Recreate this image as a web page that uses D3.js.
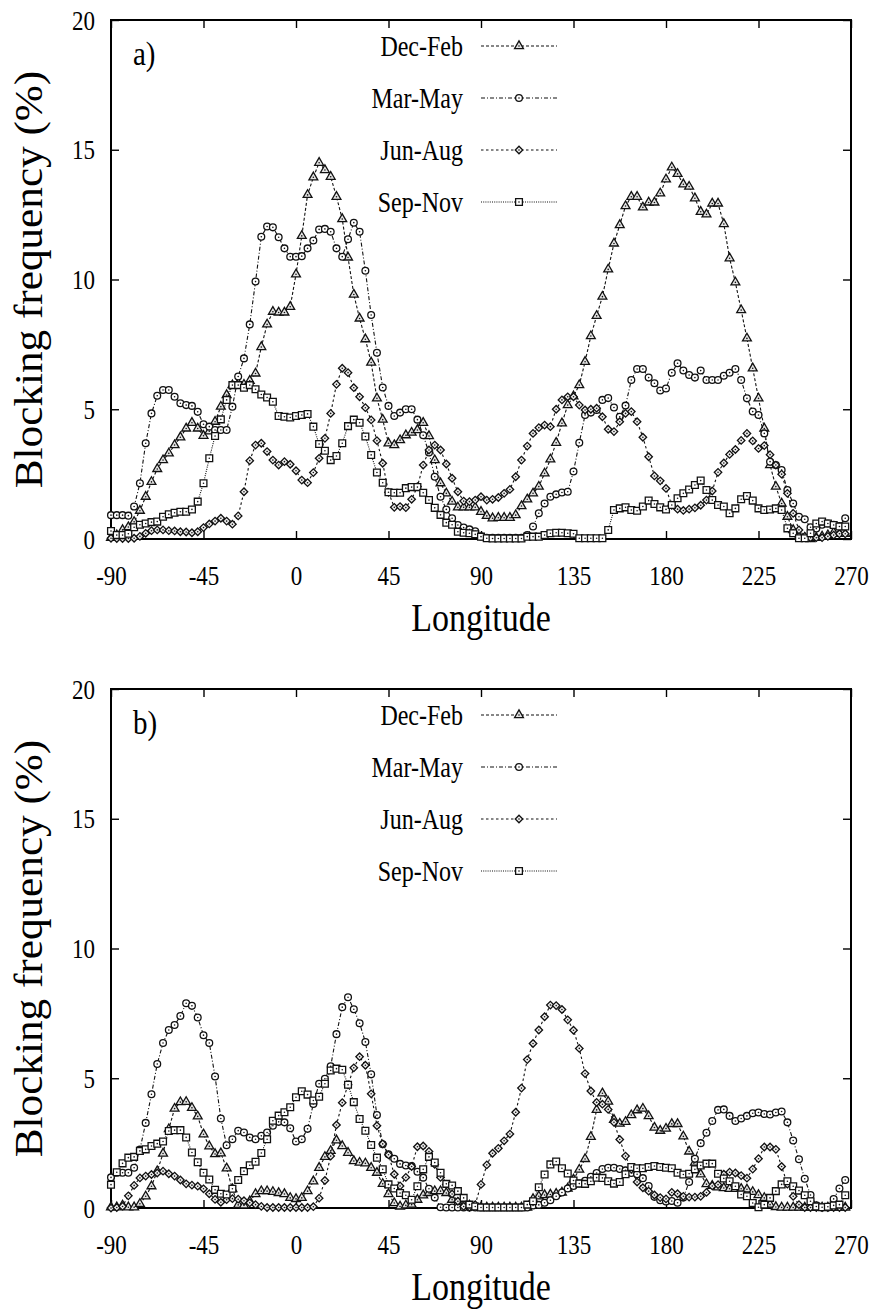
<!DOCTYPE html>
<html>
<head>
<meta charset="utf-8">
<script src="https://cdn.jsdelivr.net/npm/d3@7"></script>
<style>
    body { margin: 0; background: #fff; }
    svg text { font-family: "Liberation Serif", "Times New Roman", serif; fill: #000; }
</style>
</head>
<body>
<div id="chart-container"></div>
<script>
// T42 grid: 128 longitudes, 2.8125 deg apart, starting at -90
const lonStep = 2.8125;
const longitudes = d3.range(128).map((i) => -90 + i * lonStep);

const seasons = ["Dec-Feb", "Mar-May", "Jun-Aug", "Sep-Nov"];
const panelLabels = ["a)", "b)"];
const xTicks = [-90, -45, 0, 45, 90, 135, 180, 225, 270];
const yTicks = [0, 5, 10, 15, 20];

// panel a)
const decFebA = [
    0.05, 0.15, 0.35, 0.46, 0.66, 1.09, 1.63, 2.2, 2.7, 3.04, 3.3, 3.62, 3.92, 4.26, 4.48, 4.26,
    3.98, 4.15, 4.52, 5.1, 5.55, 5.93, 6.0, 5.95, 6.1, 6.38, 7.4, 8.27, 8.76, 8.73, 8.73, 8.95,
    10.2, 11.68, 13.26, 13.94, 14.5, 14.22, 13.96, 13.19, 12.33, 10.85, 9.42, 8.5, 7.7, 6.8, 5.42, 4.6,
    3.69, 3.62, 3.81, 4.0, 4.1, 4.2, 4.48, 3.97, 3.04, 2.15, 1.76, 1.44, 1.22, 1.22, 1.22, 1.22,
    1.05, 0.89, 0.8, 0.82, 0.82, 0.82, 0.92, 1.27, 1.53, 1.76, 2.02, 2.53, 3.07, 3.71, 4.46, 5.16,
    5.5, 5.93, 6.83, 7.82, 8.6, 9.34, 10.39, 11.39, 12.1, 12.83, 13.19, 13.19, 12.78, 12.97, 12.97, 13.32,
    13.86, 14.32, 14.07, 13.67, 13.58, 13.13, 12.61, 12.51, 12.93, 12.93, 12.14, 10.82, 9.89, 8.82, 7.73, 6.58,
    5.42, 4.26, 2.85, 2.02, 1.37, 0.86, 0.35, 0.1, 0.05, 0.0, 0.05, 0.1, 0.15, 0.25, 0.2, 0.2
];
const marMayA = [
    0.92, 0.92, 0.92, 0.9, 1.25, 2.15, 3.69, 4.84, 5.52, 5.74, 5.74, 5.48, 5.23, 5.16, 5.13, 4.9,
    4.42, 4.33, 4.2, 4.2, 4.2, 5.1, 6.26, 6.96, 8.27, 9.92, 11.65, 12.04, 12.01, 11.63, 11.2, 10.88,
    10.88, 10.9, 11.2, 11.5, 11.93, 11.95, 11.84, 11.2, 10.88, 11.55, 12.19, 11.84, 10.34, 8.63, 7.18, 5.84,
    5.13, 4.74, 4.87, 5.0, 5.0, 4.6, 4.0, 3.33, 2.4, 1.63, 1.14, 0.8, 0.54, 0.44, 0.37, 0.3,
    0.1, 0.05, 0.05, 0.05, 0.05, 0.05, 0.05, 0.05, 0.15, 0.48, 0.99, 1.37, 1.63, 1.72, 1.79, 1.82,
    2.6, 3.71, 4.78, 4.87, 4.97, 5.36, 5.43, 5.07, 4.71, 5.14, 6.13, 6.55, 6.55, 6.22, 6.0, 5.72,
    5.8, 6.41, 6.77, 6.49, 6.32, 6.22, 6.49, 6.13, 6.13, 6.13, 6.29, 6.41, 6.55, 6.13, 5.42, 4.91,
    4.78, 4.07, 2.98, 2.85, 2.66, 1.89, 1.37, 0.86, 0.76, 0.45, 0.4, 0.55, 0.6, 0.55, 0.5, 0.8
];
const junAugA = [
    0.03, 0.02, 0.02, 0.02, 0.03, 0.1, 0.22, 0.32, 0.35, 0.35, 0.32, 0.31, 0.28, 0.27, 0.24, 0.28,
    0.44, 0.58, 0.69, 0.8, 0.69, 0.57, 0.89, 1.82, 3.02, 3.62, 3.69, 3.37, 3.04, 2.85, 2.98, 2.88,
    2.63, 2.27, 2.17, 2.56, 3.11, 3.88, 4.84, 5.96, 6.58, 6.41, 5.83, 5.48, 5.06, 4.59, 3.79, 2.92,
    1.8, 1.22, 1.25, 1.21, 1.53, 2.02, 2.85, 3.43, 3.62, 3.43, 2.89, 2.34, 1.82, 1.46, 1.44, 1.5,
    1.63, 1.5, 1.53, 1.6, 1.76, 1.91, 2.4, 3.04, 3.58, 4.07, 4.29, 4.39, 4.33, 5.0, 5.36, 5.48,
    5.48, 5.16, 4.97, 5.0, 5.04, 4.71, 4.23, 4.14, 4.52, 4.84, 4.91, 4.52, 3.92, 3.17, 2.43, 2.24,
    1.95, 1.3, 1.15, 1.1, 1.15, 1.2, 1.3, 1.5, 1.85, 2.57, 2.93, 3.26, 3.45, 3.8, 4.07, 3.78,
    3.49, 3.6, 3.25, 2.85, 2.5, 1.76, 0.99, 0.35, 0.1, 0.05, 0.05, 0.05, 0.1, 0.15, 0.2, 0.2
];
const sepNovA = [
    0.31, 0.15, 0.15, 0.2, 0.45, 0.55, 0.6, 0.65, 0.67, 0.86, 0.95, 1.01, 1.05, 1.05, 1.14, 1.44,
    2.15, 3.11, 3.97, 4.61, 5.36, 5.93, 5.93, 5.83, 5.93, 5.77, 5.57, 5.45, 5.29, 4.74, 4.71, 4.68,
    4.74, 4.78, 4.82, 4.33, 3.66, 3.4, 3.04, 3.2, 3.69, 4.35, 4.6, 4.48, 3.95, 3.24, 2.56, 2.17,
    1.8, 1.78, 1.78, 1.96, 2.0, 2.0, 1.78, 1.5, 1.2, 0.93, 0.63, 0.55, 0.28, 0.24, 0.22, 0.18,
    0.09, 0.03, 0.02, 0.02, 0.02, 0.02, 0.02, 0.02, 0.09, 0.09, 0.09, 0.15, 0.22, 0.24, 0.24, 0.22,
    0.2, 0.03, 0.03, 0.03, 0.03, 0.03, 0.35, 1.12, 1.18, 1.22, 1.12, 1.09, 1.25, 1.48, 1.35, 1.22,
    1.14, 1.31, 1.57, 1.76, 1.91, 2.08, 2.25, 1.89, 1.5, 1.31, 1.25, 0.99, 1.18, 1.53, 1.66, 1.48,
    1.18, 1.12, 1.14, 1.18, 1.12, 0.41, 0.22, 0.03, 0.03, 0.22, 0.6, 0.67, 0.6, 0.54, 0.48, 0.48
];

// panel b)
const decFebB = [
    0.03, 0.03, 0.1, 0.03, 0.03, 0.16, 0.45, 0.84, 1.42, 2.1, 3.04, 3.83, 4.08, 4.09, 3.86, 3.53,
    2.84, 2.38, 2.08, 2.11, 1.53, 0.73, 0.12, 0.1, 0.26, 0.54, 0.65, 0.65, 0.62, 0.58, 0.54, 0.39,
    0.35, 0.39, 0.65, 1.03, 1.55, 1.97, 2.2, 2.61, 2.39, 2.13, 1.81, 1.75, 1.72, 1.55, 1.36, 0.93,
    0.54, 0.19, 0.06, 0.1, 0.13, 0.32, 0.49, 0.58, 0.65, 0.65, 0.58, 0.32, 0.19, 0.12, 0.1, 0.05,
    0.02, 0.02, 0.02, 0.02, 0.02, 0.02, 0.02, 0.02, 0.02, 0.35, 0.45, 0.5, 0.52, 0.55, 0.6, 0.75,
    1.1, 1.48, 1.89, 2.74, 3.78, 4.42, 4.1, 3.4, 3.25, 3.32, 3.58, 3.77, 3.83, 3.54, 3.1, 2.98,
    3.06, 3.24, 3.24, 2.76, 2.18, 1.75, 1.3, 0.92, 0.86, 0.8, 0.77, 0.74, 0.74, 0.74, 0.72, 0.62,
    0.5, 0.39, 0.13, 0.04, 0.02, 0.02, 0.02, 0.02, 0.02, 0.02, 0.02, 0.02, 0.02, 0.02, 0.02, 0.02
];
const marMayB = [
    1.18, 1.36, 1.36, 1.36, 1.55, 2.25, 3.28, 4.38, 5.55, 6.36, 6.86, 7.05, 7.4, 7.89, 7.79, 7.34,
    6.66, 6.36, 5.07, 3.45, 2.42, 2.65, 2.98, 2.91, 2.72, 2.65, 2.78, 2.91, 3.17, 3.32, 3.3, 3.07,
    2.56, 2.65, 3.05, 4.01, 4.79, 4.98, 5.46, 6.7, 7.74, 8.12, 7.66, 7.12, 6.4, 5.15, 3.58, 2.46,
    2.07, 1.9, 1.7, 1.64, 1.62, 1.4, 1.17, 0.74, 0.4, 0.03, 0.02, 0.02, 0.02, 0.02, 0.02, 0.02,
    0.02, 0.02, 0.02, 0.02, 0.02, 0.02, 0.02, 0.02, 0.02, 0.1, 0.12, 0.2, 0.3, 0.45, 0.6, 0.75,
    0.85, 0.95, 1.05, 1.2, 1.35, 1.5, 1.55, 1.55, 1.5, 1.45, 1.35, 1.3, 1.15, 0.85, 0.43, 0.3,
    0.25, 0.27, 0.2, 0.4, 1.0, 1.9, 2.5, 2.9, 3.35, 3.78, 3.8, 3.55, 3.35, 3.45, 3.55, 3.65,
    3.68, 3.62, 3.6, 3.68, 3.72, 3.3, 2.6, 1.88, 1.13, 0.5, 0.1, 0.02, 0.02, 0.35, 0.75, 1.08
];
const junAugB = [
    0.0, 0.02, 0.06, 0.47, 0.87, 1.16, 1.23, 1.29, 1.35, 1.42, 1.32, 1.23, 1.08, 0.93, 0.88, 0.84,
    0.74, 0.55, 0.33, 0.22, 0.32, 0.36, 0.34, 0.28, 0.2, 0.13, 0.06, 0.02, 0.02, 0.02, 0.02, 0.02,
    0.02, 0.02, 0.02, 0.05, 0.38, 1.06, 2.0, 3.2, 4.06, 4.75, 5.4, 5.83, 5.5, 4.4, 3.17, 2.47,
    2.05, 1.3, 0.85, 1.18, 1.6, 2.36, 2.39, 2.18, 1.68, 1.18, 0.91, 0.54, 0.26, 0.06, 0.03, 0.13,
    0.91, 1.66, 2.11, 2.3, 2.59, 2.85, 3.69, 4.62, 5.72, 6.34, 6.86, 7.37, 7.82, 7.8, 7.65, 7.25,
    6.85, 6.15, 5.18, 4.51, 4.07, 4.0, 3.8, 3.3, 2.64, 2.0, 1.5, 1.0, 0.78, 0.65, 0.5, 0.4,
    0.35, 0.6, 0.55, 0.45, 0.42, 0.42, 0.45, 0.6, 0.85, 0.9, 1.3, 1.38, 1.35, 1.25, 1.15, 1.5,
    1.9, 2.35, 2.35, 2.26, 1.6, 0.92, 0.45, 0.13, 0.02, 0.02, 0.02, 0.02, 0.02, 0.02, 0.02, 0.02
];
const sepNovB = [
    0.9, 1.38, 1.72, 1.94, 1.97, 2.2, 2.26, 2.39, 2.48, 2.56, 2.97, 3.0, 3.0, 2.72, 2.14, 1.76,
    1.36, 1.1, 0.7, 0.55, 0.52, 0.74, 1.08, 1.42, 1.65, 1.78, 2.12, 2.65, 3.36, 3.56, 3.69, 3.88,
    4.27, 4.5, 4.37, 4.14, 4.29, 4.79, 5.3, 5.37, 5.33, 4.75, 4.08, 3.43, 2.98, 2.43, 1.94, 1.49,
    0.91, 0.75, 0.58, 0.49, 0.32, 0.84, 1.49, 1.97, 1.75, 1.36, 0.93, 0.87, 0.65, 0.39, 0.13, 0.06,
    0.02, 0.02, 0.02, 0.02, 0.02, 0.02, 0.02, 0.02, 0.13, 0.26, 0.8, 1.29, 1.68, 1.79, 1.53, 1.33,
    1.06, 0.94, 0.93, 1.03, 1.17, 1.16, 1.03, 0.94, 1.0, 1.3, 1.58, 1.53, 1.53, 1.58, 1.62, 1.58,
    1.55, 1.53, 1.36, 1.29, 1.32, 1.49, 1.64, 1.71, 1.71, 1.32, 1.14, 1.03, 0.84, 0.52, 0.45, 0.19,
    0.03, 0.13, 0.39, 0.65, 0.91, 1.03, 0.84, 0.67, 0.49, 0.26, 0.06, 0.03, 0.05, 0.1, 0.13, 0.49
];

const panelSeries = [
    [decFebA, marMayA, junAugA, sepNovA],
    [decFebB, marMayB, junAugB, sepNovB]
];

// layout
const width = 873;
const height = 1312;
const plotLeft = 111;
const plotRight = 851;
const plotHeight = 519;
const panelTops = [20, 689];
const stretch = 1.2; // the lettering in the original is taller than it is wide
const serif = "Liberation Serif, Times New Roman, serif";

// line and marker style per season (same order as seasons)
const seasonStyles = [
    { dash: "3,2", symbol: d3.symbolTriangle, size: 34, rotate: 0, fill: "#e4e4e4" },
    { dash: "4,2,1,2", symbol: d3.symbolCircle, size: 36, rotate: 0, fill: "#fff" },
    { dash: "2.5,2.5", symbol: d3.symbolSquare, size: 28, rotate: 45, fill: "#eee" },
    { dash: "1,1.2", symbol: d3.symbolSquare, size: 46, rotate: 0, fill: "#fff" }
];

const svg = d3
    .select("#chart-container")
    .append("svg")
    .attr("width", width)
    .attr("height", height)
    .attr("font-family", serif);

const x = d3.scaleLinear().domain([-90, 270]).range([plotLeft, plotRight]);

function styleAxis(g) {
    g.select(".domain").remove();
    g.attr("font-family", serif).attr("font-size", 23);
    g.selectAll(".tick line").attr("stroke", "#000").attr("stroke-width", 1.4);
}

function drawMarker(g, style, cx, cy) {
    g.append("path")
        .attr("d", d3.symbol().type(style.symbol).size(style.size)())
        .attr("transform", `translate(${cx}, ${cy}) rotate(${style.rotate})`)
        .attr("fill", style.fill)
        .attr("stroke", "#111")
        .attr("stroke-width", 1.3);
    g.append("circle")
        .attr("cx", cx)
        .attr("cy", cy)
        .attr("r", 0.8)
        .attr("fill", "#111");
}

function drawPanel(top, label, seriesList) {
    const bottom = top + plotHeight;
    const y = d3.scaleLinear().domain([0, 20]).range([bottom, top]);
    const g = svg.append("g");

    // ticks point inward on all four sides
    g.append("g")
        .attr("transform", `translate(0, ${bottom})`)
        .call(
            d3.axisBottom(x)
                .tickValues(xTicks)
                .tickSizeInner(-8)
                .tickSizeOuter(0)
                .tickFormat((d) => String(d))
        )
        .call(styleAxis)
        .selectAll("text")
        .attr("y", null)
        .attr("dy", null)
        .attr("transform", `translate(0, 46) scale(1, ${stretch})`);

    g.append("g")
        .attr("transform", `translate(0, ${top})`)
        .call(d3.axisTop(x).tickValues(xTicks).tickSizeInner(-8).tickSizeOuter(0).tickFormat(""))
        .call(styleAxis);

    g.append("g")
        .attr("transform", `translate(${plotLeft}, 0)`)
        .call(
            d3.axisLeft(y)
                .tickValues(yTicks)
                .tickSizeInner(-8)
                .tickSizeOuter(0)
                .tickPadding(16)
        )
        .call(styleAxis)
        .selectAll("text")
        .attr("dy", "0.33em")
        .attr("transform", `scale(1, ${stretch})`);

    g.append("g")
        .attr("transform", `translate(${plotRight}, 0)`)
        .call(d3.axisRight(y).tickValues(yTicks).tickSizeInner(-8).tickSizeOuter(0).tickFormat(""))
        .call(styleAxis);

    g.append("rect")
        .attr("x", plotLeft)
        .attr("y", top)
        .attr("width", plotRight - plotLeft)
        .attr("height", plotHeight)
        .attr("fill", "none")
        .attr("stroke", "#000")
        .attr("stroke-width", 2);

    const line = d3
        .line()
        .x((d, i) => x(longitudes[i]))
        .y((d) => y(d));

    seriesList.forEach((values, k) => {
        const style = seasonStyles[k];
        const sg = g.append("g");
        sg.append("path")
            .datum(values)
            .attr("d", line)
            .attr("fill", "none")
            .attr("stroke", "#111")
            .attr("stroke-width", 1.1)
            .attr("stroke-dasharray", style.dash);
        values.forEach((v, i) => drawMarker(sg, style, x(longitudes[i]), y(v)));
    });

    // legend
    seasons.forEach((name, k) => {
        const rowY = top + 26 + k * 52;
        const style = seasonStyles[k];
        g.append("text")
            .attr("transform", `translate(463, ${rowY + 10}) scale(1, ${stretch})`)
            .attr("text-anchor", "end")
            .attr("font-family", serif)
            .attr("font-size", 24)
            .text(name);
        g.append("line")
            .attr("x1", 481)
            .attr("x2", 557)
            .attr("y1", rowY)
            .attr("y2", rowY)
            .attr("stroke", "#111")
            .attr("stroke-width", 1.1)
            .attr("stroke-dasharray", style.dash);
        drawMarker(g, style, 519, rowY);
    });

    g.append("text")
        .attr("transform", `translate(133, ${top + 45}) scale(1, 1.15)`)
        .attr("font-family", serif)
        .attr("font-size", 29)
        .text(label);

    g.append("text")
        .attr("transform", `translate(42, ${top + plotHeight / 2}) rotate(-90) scale(1.08, 1)`)
        .attr("text-anchor", "middle")
        .attr("font-family", serif)
        .attr("font-size", 40)
        .text("Blocking frequency (%)");

    g.append("text")
        .attr("transform", `translate(${(plotLeft + plotRight) / 2}, ${bottom + 92}) scale(1, ${stretch})`)
        .attr("text-anchor", "middle")
        .attr("font-family", serif)
        .attr("font-size", 34)
        .text("Longitude");
}

panelTops.forEach((top, p) => drawPanel(top, panelLabels[p], panelSeries[p]));
</script>
</body>
</html>
